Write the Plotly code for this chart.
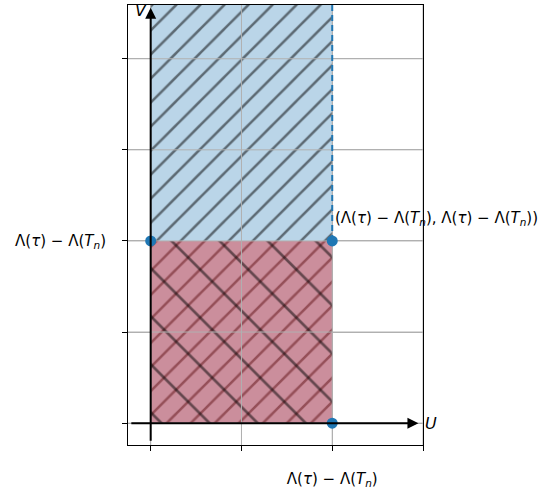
import plotly.graph_objects as go

# ---- data ----
lam = 2.0                      # value of Λ(τ) − Λ(T_n) on both axes
x_ticks = [0, 1, 2, 3]
y_ticks = [0, 1, 2, 3, 4]
lab = "Λ(<i>τ</i>) − Λ(<i>T</i><sub><i>n</i></sub>)"
x_ticktext = ["", "", lab, ""]
y_ticktext = ["", "", lab, "", ""]
pt_x = [0, lam, lam]
pt_y = [lam, lam, 0]
point_label = "(" + lab + ", " + lab + ")"
x_range = [-0.25, 3.0]
y_range = [-0.24, 4.59]

ytop = y_range[1]
blue = "#1f77b4"
font = "DejaVu Sans"
gridc = "#b0b0b0"

fig = go.Figure()

# blue region (upper) with '/' hatch
fig.add_trace(go.Scatter(
    x=[0, lam, lam, 0, 0], y=[lam, lam, ytop + 1, ytop + 1, lam],
    mode="lines", fill="toself", line=dict(width=0),
    fillcolor="rgb(186,213,232)",
    fillpattern=dict(shape="/", size=17, solidity=0.15,
                     fgcolor="rgb(0,0,0)", bgcolor="rgb(186,213,232)"),
    hoverinfo="skip", showlegend=False))

# red region (lower) with '/' dark-red hatch
fig.add_trace(go.Scatter(
    x=[0, lam, lam, 0, 0], y=[0, 0, lam, lam, 0],
    mode="lines", fill="toself", line=dict(width=0),
    fillcolor="rgb(203,142,156)",
    fillpattern=dict(shape="/", size=17, solidity=0.15,
                     fgcolor="rgb(95,15,20)", bgcolor="rgb(203,142,156)"),
    hoverinfo="skip", showlegend=False))

# red region '\' black hatch
fig.add_trace(go.Scatter(
    x=[0, lam, lam, 0, 0], y=[0, 0, lam, lam, 0],
    mode="lines", fill="toself", line=dict(width=0),
    fillcolor="rgba(0,0,0,0)",
    fillpattern=dict(shape="\\", size=34, solidity=0.08,
                     fgcolor="rgb(0,0,0)", bgcolor="rgba(0,0,0,0)"),
    hoverinfo="skip", showlegend=False))

# grid redrawn above the filled regions (as in the reference)
gx, gy = [], []
for t in x_ticks:
    gx += [t, t, None]
    gy += [y_range[0] - 1, y_range[1] + 1, None]
for t in y_ticks:
    gx += [x_range[0] - 1, x_range[1] + 1, None]
    gy += [t, t, None]
fig.add_trace(go.Scatter(
    x=gx, y=gy, mode="lines", line=dict(color=gridc, width=1),
    hoverinfo="skip", showlegend=False))

# dashed boundary
fig.add_trace(go.Scatter(
    x=[lam, lam], y=[lam, ytop + 1], mode="lines",
    line=dict(color=blue, width=2, dash="6px,4px"),
    hoverinfo="skip", showlegend=False))

# points
fig.add_trace(go.Scatter(
    x=pt_x, y=pt_y, mode="markers",
    marker=dict(color=blue, size=11),
    cliponaxis=False, hoverinfo="skip", showlegend=False))

arrow_common = dict(xref="x", yref="y", axref="x", ayref="y", text="",
                    showarrow=True, arrowhead=2, arrowsize=1.1,
                    arrowwidth=2, arrowcolor="black")

annotations = [
    dict(x=2.95, y=0, ax=-0.23, ay=0, **arrow_common),
    dict(x=0, y=4.56, ax=0, ay=-0.21, **arrow_common),
    dict(x=3.0, y=0, xref="x", yref="y", text="<i>U</i>", showarrow=False,
         xanchor="left", yanchor="middle", xshift=0,
         font=dict(family=font, size=16, color="black")),
    dict(x=-0.02, y=4.53, xref="x", yref="y", text="<i>V</i>", showarrow=False,
         xanchor="right", yanchor="middle",
         font=dict(family=font, size=16, color="black")),
    dict(x=lam, y=lam, xref="x", yref="y", text=point_label, showarrow=False,
         xanchor="left", yanchor="bottom", xshift=1, yshift=11,
         font=dict(family=font, size=15, color="black")),
]

axis_common = dict(showgrid=True, gridcolor=gridc, gridwidth=1,
                   showline=True, linecolor="black", linewidth=1, mirror=True,
                   zeroline=False, ticks="outside", ticklen=5, tickwidth=1,
                   tickcolor="black", automargin=False, layer="above traces",
                   tickfont=dict(family=font, size=15, color="black"))

fig.update_layout(
    width=538, height=491,
    margin=dict(l=128, r=115, t=5, b=46),
    paper_bgcolor="white", plot_bgcolor="white",
    xaxis=dict(range=x_range, tickmode="array", tickvals=x_ticks,
               ticktext=x_ticktext, ticklabelstandoff=15, **axis_common),
    yaxis=dict(range=y_range, tickmode="array", tickvals=y_ticks,
               ticktext=y_ticktext, ticklabelstandoff=13, **axis_common),
    annotations=annotations,
    showlegend=False,
)

fig.write_html("out.html")
